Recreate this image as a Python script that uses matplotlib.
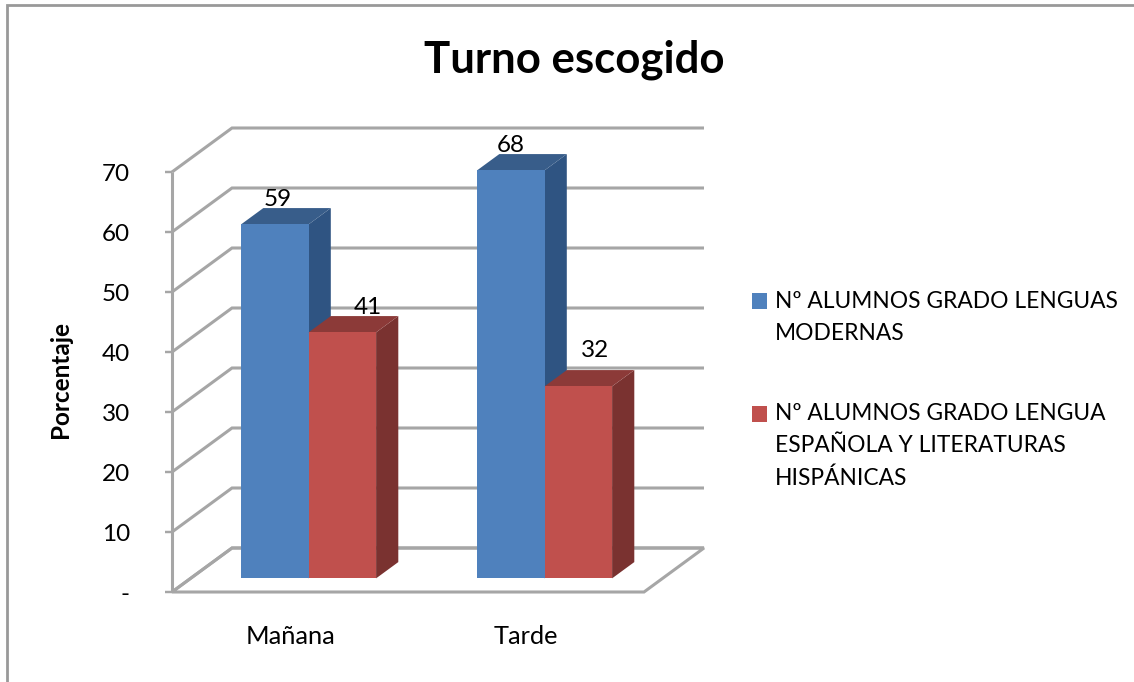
import matplotlib
matplotlib.use("Agg")
import matplotlib.pyplot as plt
from matplotlib.patches import Polygon, Patch, Rectangle
from matplotlib.legend_handler import HandlerPatch

plt.rcParams['font.family'] = ['Lato', 'DejaVu Sans']

# Data
categories = ["Mañana", "Tarde"]
series_names = ["Nº ALUMNOS GRADO LENGUAS\nMODERNAS",
                "Nº ALUMNOS GRADO LENGUA\nESPAÑOLA Y LITERATURAS\nHISPÁNICAS"]
modernas = [59, 68]
hispanicas = [41, 32]
y_ticks = [0, 10, 20, 30, 40, 50, 60, 70]
y_tick_labels = ["-", "10", "20", "30", "40", "50", "60", "70"]
title = "Turno escogido"
y_title = "Porcentaje"

# Styles
W, H = 1134, 682
X0_PX, X_UNIT_PX = 172, 236      # pixel of x=0, pixels per category
Y0_PX, Y_UNIT_PX = 592, 6.0      # pixel of y=0, pixels per value unit
DX_PX, DY_PX = 60, 44            # depth of the floor in pixels
GRID = "#A6A6A6"
TXT = "#000000"
BLUE = ("#4F81BD", "#385D8A", "#2F5482")
RED = ("#C0504D", "#8C3A38", "#7A3230")
BAR_W = 0.286
D_FRONT, D_BACK = 0.31, 0.68
# Offsets (pixels) of the data labels from the top centre of each bar's front
LABEL_OFFSETS_A = [(3, -25), (0, -25)]
LABEL_OFFSETS_B = [(25, -25), (17, -36)]

fig = plt.figure(figsize=(W / 100, H / 100), dpi=100, facecolor="white")
ax = fig.add_axes([0, 0, 1, 1])
ax.set_xlim(-X0_PX / X_UNIT_PX, (W - X0_PX) / X_UNIT_PX)
ax.set_ylim(-(H - Y0_PX) / Y_UNIT_PX, Y0_PX / Y_UNIT_PX)
ax.axis("off")


def proj(x, y, d=0.0):
    """Oblique projection: depth d in 0..1 shifts a point back and up."""
    return x + d * DX_PX / X_UNIT_PX, y + d * DY_PX / Y_UNIT_PX


def px_x(p):
    return (p - X0_PX) / X_UNIT_PX


def px_y(p):
    return (Y0_PX - p) / Y_UNIT_PX


# Outer frame of the chart (runs off the right and bottom of the picture)
ax.plot([px_x(7), px_x(7), px_x(1134)], [px_y(682), px_y(5), px_y(5)],
        color="#999999", lw=2.0, solid_joinstyle="miter", zorder=1)

lw = 2.2
n_cat = len(categories)
for v, lab in zip(y_ticks, y_tick_labels):
    p0 = proj(0, v, 0)
    p1 = proj(0, v, 1)
    p2 = proj(n_cat, v, 1)
    ax.plot([p0[0], p1[0], p2[0]], [p0[1], p1[1], p2[1]], color=GRID, lw=lw,
            solid_joinstyle="miter", solid_capstyle="butt", zorder=2)
    ax.plot([px_x(165), 0], [v, v], color=GRID, lw=lw * 0.8, solid_capstyle="butt", zorder=2)
    ax.text(px_x(130), v - 0.35, lab, ha="right", va="center", fontsize=17.5, color=TXT)

# Vertical axis at the front
ax.plot([0, 0], [0, y_ticks[-1]], color=GRID, lw=lw, solid_capstyle="butt", zorder=2)
# Floor
floor = [proj(0, 0, 0), proj(n_cat, 0, 0), proj(n_cat, 0, 1), proj(0, 0, 1)]
ax.add_patch(Polygon(floor, closed=True, fill=False, edgecolor=GRID, lw=lw, zorder=2))


def bar3d(x_left, value, cols, z):
    front, top, side = cols
    x_right = x_left + BAR_W
    ax.add_patch(Polygon([proj(x_right, 0, D_FRONT), proj(x_right, 0, D_BACK),
                          proj(x_right, value, D_BACK), proj(x_right, value, D_FRONT)],
                         closed=True, fc=side, ec="none", zorder=z))
    ax.add_patch(Polygon([proj(x_left, value, D_FRONT), proj(x_right, value, D_FRONT),
                          proj(x_right, value, D_BACK), proj(x_left, value, D_BACK)],
                         closed=True, fc=top, ec="none", zorder=z))
    ax.add_patch(Polygon([proj(x_left, 0, D_FRONT), proj(x_right, 0, D_FRONT),
                          proj(x_right, value, D_FRONT), proj(x_left, value, D_FRONT)],
                         closed=True, fc=front, ec="none", zorder=z + 0.1))


def bar_label(x_centre, value, offset):
    lx, ly = proj(x_centre, value, D_FRONT)
    ax.text(lx + offset[0] / X_UNIT_PX, ly - offset[1] / Y_UNIT_PX, str(value),
            ha="center", va="center", fontsize=17.5, color=TXT, zorder=8)


for i, cat in enumerate(categories):
    centre = i + 0.5
    bar3d(centre - BAR_W, modernas[i], BLUE, 3 + i)
    bar3d(centre, hispanicas[i], RED, 3.5 + i)
    bar_label(centre - BAR_W / 2, modernas[i], LABEL_OFFSETS_A[i])
    bar_label(centre + BAR_W / 2, hispanicas[i], LABEL_OFFSETS_B[i])
    ax.text(centre, px_y(636), cat, ha="center", va="center", fontsize=18.3, color=TXT)

ax.text(px_x(61), px_y(380), y_title, rotation=90, ha="center", va="center",
        fontsize=17.5, fontweight="bold", color=TXT)
ax.text(px_x(574), px_y(60), title, ha="center", va="center",
        fontsize=31.5, fontweight="bold", color=TXT)


class FirstLineHandler(HandlerPatch):
    """Legend key aligned with the first line of a wrapped label."""

    def __init__(self, shift_pt):
        super().__init__()
        self.shift_pt = shift_pt

    def create_artists(self, legend, orig_handle, xdescent, ydescent, width, height,
                       fontsize, trans):
        rect = Rectangle((-xdescent, -ydescent + self.shift_pt), width, height,
                         fc=orig_handle.get_facecolor(), ec="none", transform=trans)
        return [rect]


handles = [Patch(fc=BLUE[0], ec="none"), Patch(fc=RED[0], ec="none")]
leg = ax.legend(handles, series_names, loc="upper left",
                bbox_to_anchor=(751.5 / W, 1 - 290.5 / H), bbox_transform=fig.transFigure,
                frameon=False, fontsize=16.4, handlelength=0.66, handleheight=0.66,
                handletextpad=0.35, labelspacing=2.6, borderpad=0, borderaxespad=0,
                labelcolor=TXT,
                handler_map={handles[0]: FirstLineHandler(12),
                             handles[1]: FirstLineHandler(23.5)})
for t in leg.get_texts():
    t.set_linespacing(1.66)

fig.savefig("out.png", dpi=100, facecolor="white")
